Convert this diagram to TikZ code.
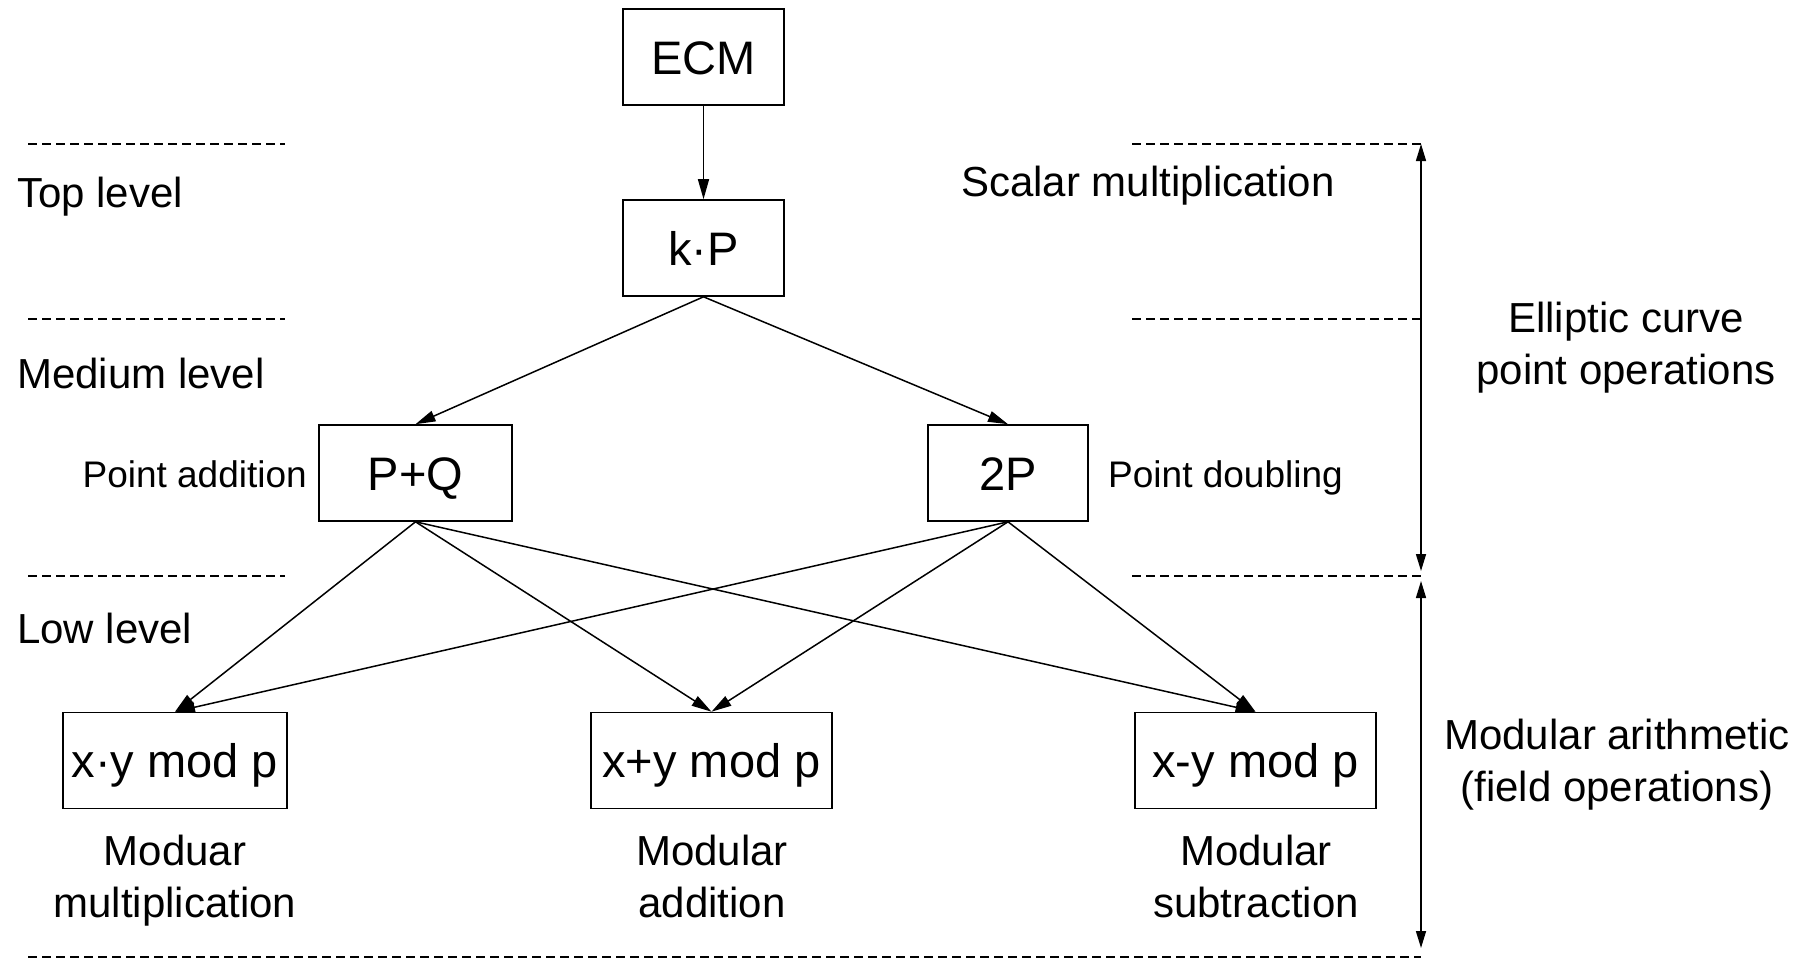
\documentclass[tikz,border=0pt]{standalone}
\usepackage{fontspec}
\setmainfont{Liberation Sans}
\usetikzlibrary{arrows.meta}

\tikzset{
  opbox/.style={draw, line width=1.6pt, minimum height=96pt, inner sep=0pt,
    text height=34pt, text depth=0pt, font=\fontsize{47}{56}\selectfont},
  lbl/.style={inner sep=0pt, font=\fontsize{42}{50}\selectfont},
  small/.style={inner sep=0pt, font=\fontsize{37}{44}\selectfont},
  link/.style={line width=1.5pt, -{Triangle[length=20pt,width=11pt]}},
  span/.style={line width=1.5pt, {Triangle[length=17pt,width=10pt]}-{Triangle[length=17pt,width=10pt]}},
  levelline/.style={line width=1.5pt, dash pattern=on 9pt off 5pt}
}

\begin{document}
\begin{tikzpicture}[x=1pt, y=-1pt]
  \useasboundingbox (0,0) rectangle (1807,961);

  % operation boxes
  \node[opbox, minimum width=161pt] (ecm) at (703.5,57) {ECM};
  \node[opbox, minimum width=161pt] (kp)  at (703.5,248) {k·P};
  \node[opbox, minimum width=193pt] (pq)  at (415.5,473) {P+Q};
  \node[opbox, minimum width=160pt] (dbl) at (1008,473) {2P};
  \node[opbox, minimum width=224pt] (mul) at (175,760.5) {x·y mod p};
  \node[opbox, minimum width=241pt] (add) at (711.5,760.5) {x+y mod p};
  \node[opbox, minimum width=241pt] (sub) at (1255.5,760.5) {x-y mod p};

  % call hierarchy
  \draw[link] (ecm.south) -- (kp.north);
  \draw[link] (kp.south) -- (pq.north);
  \draw[link] (kp.south) -- (dbl.north);
  \foreach \src in {pq,dbl}{
    \foreach \dst in {mul,add,sub}{
      \draw[link] (\src.south) -- (\dst.north);
    }
  }

  % level separators
  \coordinate (l1a) at (28,144);  \coordinate (l1b) at (285,144);
  \coordinate (l2a) at (28,319);  \coordinate (l2b) at (285,319);
  \coordinate (l3a) at (28,576);  \coordinate (l3b) at (285,576);
  \coordinate (r1a) at (1132,144); \coordinate (r1b) at (1421,144);
  \coordinate (r2a) at (1132,319); \coordinate (r2b) at (1421,319);
  \coordinate (r3a) at (1132,576); \coordinate (r3b) at (1421,576);
  \coordinate (bota) at (28,957);  \coordinate (botb) at (1421,957);
  \draw[levelline] (l1a) -- (l1b);
  \draw[levelline] (l2a) -- (l2b);
  \draw[levelline] (l3a) -- (l3b);
  \draw[levelline] (r1a) -- (r1b);
  \draw[levelline] (r2a) -- (r2b);
  \draw[levelline] (r3a) -- (r3b);
  \draw[levelline] (bota) -- (botb);

  % extent of the two operation groups
  \coordinate (up1) at (1421,144);
  \coordinate (up2) at (1421,571);
  \coordinate (lo1) at (1421,581);
  \coordinate (lo2) at (1421,948);
  \draw[span] (up1) -- (up2);
  \draw[span] (lo1) -- (lo2);

  % level names
  \node[lbl, anchor=base west] (top) at (17,207) {Top level};
  \node[lbl, anchor=base west] (med) at (17,388) {Medium level};
  \node[lbl, anchor=base west] (low) at (17,643) {Low level};

  % group names
  \node[lbl, anchor=base west] (scal) at (961,196) {Scalar multiplication};
  \node[lbl, anchor=base] (ec1) at (1626,332) {Elliptic curve};
  \node[lbl, anchor=base] (ec2) at (1626,384) {point operations};
  \node[lbl, anchor=base] (ma1) at (1617,749) {Modular arithmetic};
  \node[lbl, anchor=base] (ma2) at (1617,801) {(field operations)};

  % operation names
  \node[small, anchor=base east] (pqn) at (307,487) {Point addition};
  \node[small, anchor=base west] (dbn) at (1108,487) {Point doubling};
  \node[lbl, anchor=base] (muln1) at (175,865) {Moduar};
  \node[lbl, anchor=base] (muln2) at (175,917) {multiplication};
  \node[lbl, anchor=base] (addn1) at (712,865) {Modular};
  \node[lbl, anchor=base] (addn2) at (712,917) {addition};
  \node[lbl, anchor=base] (subn1) at (1256,865) {Modular};
  \node[lbl, anchor=base] (subn2) at (1256,917) {subtraction};
\end{tikzpicture}
\end{document}
